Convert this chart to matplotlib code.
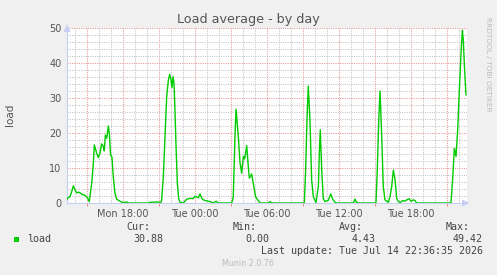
import matplotlib
matplotlib.use("Agg")
import matplotlib.pyplot as plt
from matplotlib.ticker import FixedLocator

# time in hours since Monday 00:00, load values
hours = [13.31, 13.44, 13.58, 13.72, 13.86, 14.0, 14.14, 14.28, 14.42, 14.56, 14.83, 15.03, 15.19,
         15.39, 15.53, 15.61, 15.81, 15.94, 16.08, 16.22, 16.36, 16.44, 16.53, 16.64, 16.78, 16.86,
         16.97, 17.08, 17.19, 17.33, 17.47, 17.75, 18.03, 18.31, 18.44, 20.11, 20.25, 20.94, 21.14,
         21.22, 21.36, 21.5, 21.64, 21.78, 21.89, 22.0, 22.08, 22.17, 22.25, 22.33, 22.42, 22.53,
         22.64, 22.75, 23.03, 23.31, 23.58, 23.86, 24.0, 24.14, 24.28, 24.42, 24.56, 24.69, 24.97,
         25.25, 25.53, 25.75, 25.94, 27.06, 27.19, 27.33, 27.42, 27.61, 27.75, 27.89, 28.03, 28.14,
         28.31, 28.45, 28.53, 28.72, 28.9, 29.05, 29.2, 29.42, 30.1, 30.25, 30.4, 33.11, 33.22,
         33.33, 33.44, 33.58, 33.72, 33.86, 34.08, 34.28, 34.36, 34.44, 34.56, 34.69, 34.83, 35.11,
         35.31, 35.47, 35.67, 35.81, 37.2, 37.33, 37.47, 37.61, 39.08, 39.19, 39.31, 39.42, 39.56,
         39.69, 39.83, 40.11, 40.25, 40.39, 40.53, 40.67, 40.81, 40.94, 41.08, 41.31, 41.5, 41.64,
         41.86, 42.0, 42.19, 42.33, 42.47, 45.33, 45.47, 45.61, 45.75, 45.89, 46.03, 46.17, 46.28,
         46.36, 46.44, 46.58]
load = [1.0, 1.6, 1.8, 3.2, 4.9, 3.7, 2.9, 3.1, 2.9, 2.5, 2.2, 1.5, 0.4,
        5.6, 11.3, 16.6, 14.2, 13.0, 14.2, 16.9, 16.2, 14.9, 19.4, 18.5, 22.0, 19.9,
        13.7, 13.1, 7.5, 2.8, 1.1, 0.5, 0.1, 0.3, 0.0, 0.0, 0.2, 0.3, 0.0,
        0.8, 7.5, 19.0, 30.4, 35.1, 36.8, 35.1, 33.0, 36.1, 34.3, 26.6, 16.1, 5.6,
        1.3, 0.2, 0.0, 1.1, 1.3, 1.3, 1.9, 1.7, 1.5, 2.6, 1.4, 0.9, 0.6,
        0.4, 0.0, 0.5, 0.0, 0.0, 1.7, 19.0, 26.8, 19.0, 11.5, 8.5, 13.3, 12.6,
        16.4, 10.0, 7.1, 8.3, 4.7, 1.8, 1.0, 0.0, 0.0, 0.4, 0.0, 0.0, 9.4,
        23.7, 33.4, 23.7, 6.6, 1.8, 0.1, 4.7, 14.2, 20.9, 9.4, 1.3, 0.4, 0.8,
        2.6, 1.1, 0.2, 0.0, 0.0, 1.1, 0.2, 0.0, 0.0, 9.4, 23.7, 32.0, 19.0,
        4.7, 0.9, 0.2, 1.8, 4.7, 9.4, 6.7, 1.3, 0.4, 0.1, 0.7, 0.5, 0.9,
        1.2, 0.5, 0.9, 0.7, 0.0, 0.0, 6.7, 15.6, 13.3, 20.9, 32.4, 42.8, 49.4,
        46.6, 40.0, 30.9]

x_label_hours = [18, 24, 30, 36, 42]
x_labels = ["Mon 18:00", "Tue 00:00", "Tue 06:00", "Tue 12:00", "Tue 18:00"]
y_ticks = [0, 10, 20, 30, 40, 50]
stat_names = ["Cur:", "Min:", "Avg:", "Max:"]
stat_values = ["30.88", "0.00", "4.43", "49.42"]
series_name = "load"
title = "Load average - by day"
last_update = "Last update: Tue Jul 14 22:36:35 2026"

W, H = 497, 275
fig = plt.figure(figsize=(W / 100, H / 100), dpi=100, facecolor="#f0f0f0")
ax = fig.add_axes([67 / W, 72 / H, 400 / W, 175 / H], facecolor="white")

x0, x1 = 13.333, 46.667
ax.set_xlim(x0, x1)
ax.set_ylim(0, 50)

minor_c = "#c4c4c4"
major_c = "#e89696"
dots = (0, (1, 1.2))
for h in range(14, 47):
    if h % 3 != 0:
        ax.axvline(h, color=minor_c, lw=0.75, ls=dots, zorder=1)
for h in range(15, 47, 3):
    ax.axvline(h, color=major_c, lw=0.75, ls=dots, zorder=1)
for v in range(2, 51, 2):
    if v % 10 != 0:
        ax.axhline(v, color=minor_c, lw=0.75, ls=dots, zorder=1)
for v in range(10, 51, 10):
    ax.axhline(v, color=major_c, lw=0.75, ls=dots, zorder=1)

ax.plot(hours, load, color="#00cc00", lw=1.0, zorder=3, solid_joinstyle="round")

for s in ["top", "right"]:
    ax.spines[s].set_visible(False)
axc = "#c8cff5"
ax.spines["left"].set_color(axc)
ax.spines["bottom"].set_color(axc)

ax.xaxis.set_major_locator(FixedLocator(x_label_hours))
ax.set_xticklabels(x_labels)
ax.xaxis.set_minor_locator(FixedLocator(list(range(15, 47, 3))))
ax.tick_params(axis="x", which="major", length=0, pad=4, labelsize=7, labelcolor="#555555")
ax.tick_params(axis="x", which="minor", length=2, color="#f07070", direction="out")
ax.set_yticks(y_ticks)
ax.tick_params(axis="y", length=0, pad=4, labelsize=7, labelcolor="#555555")

ax.annotate("", xy=(0, 1.035), xytext=(0, 0.98), xycoords="axes fraction",
            arrowprops=dict(arrowstyle="-|>,head_width=0.2,head_length=0.4", color=axc, lw=0.8),
            annotation_clip=False)
ax.annotate("", xy=(1.013, 0), xytext=(0.99, 0), xycoords="axes fraction",
            arrowprops=dict(arrowstyle="-|>,head_width=0.2,head_length=0.4", color=axc, lw=0.8),
            annotation_clip=False)

def fx(px):
    return px / W

def fy(py):
    return 1 - py / H

fig.text(fx(248), fy(19), title, ha="center", va="center", fontsize=9.2, color="#555555")
fig.text(fx(10), fy(115), series_name, ha="center", va="center", rotation=90, fontsize=7.5, color="#555555")
fig.text(fx(488), fy(17), "RRDTOOL / TOBI OETIKER", ha="center", va="top", rotation=270,
         fontsize=5.3, color="#bbbbbb")

mono = "DejaVu Sans Mono"
tc = "#444444"
fig.patches.append(plt.Rectangle((fx(14), fy(242)), 5 / W, 5 / H, transform=fig.transFigure,
                                 facecolor="#00cc00", edgecolor="none"))
fig.text(fx(27), fy(239.5), series_name, ha="left", va="center", family=mono, fontsize=7.2, color=tc)
head_right = [150, 257, 363, 470]
val_right = [163, 269, 376, 483]
for n, r in zip(stat_names, head_right):
    fig.text(fx(r), fy(227.5), n, ha="right", va="center", family=mono, fontsize=7.2, color=tc)
for v, r in zip(stat_values, val_right):
    fig.text(fx(r), fy(239.5), v, ha="right", va="center", family=mono, fontsize=7.2, color=tc)
fig.text(fx(483), fy(251.5), last_update, ha="right", va="center", family=mono, fontsize=7.2, color=tc)
fig.text(fx(248), fy(264), "Munin 2.0.76", ha="center", va="center", fontsize=5.8, color="#bbbbbb")

fig.savefig("out.png", dpi=100, facecolor=fig.get_facecolor())
